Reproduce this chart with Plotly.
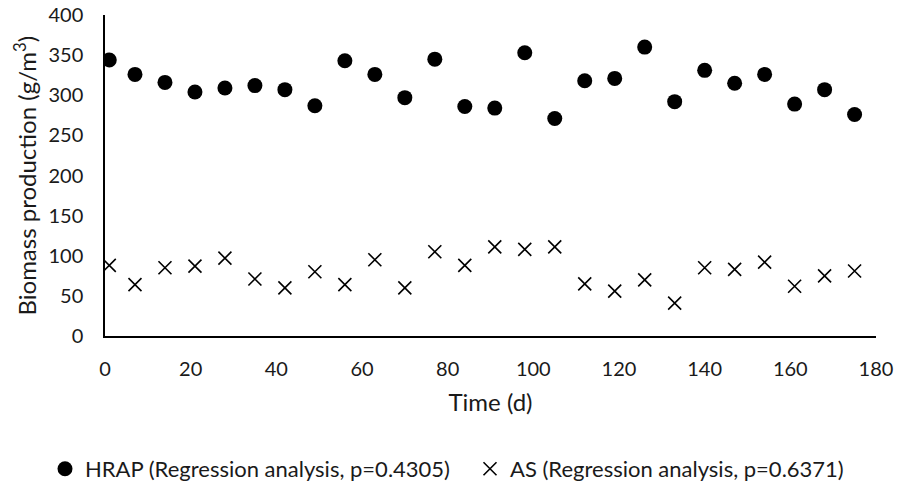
import plotly.graph_objects as go

days = [1, 7, 14, 21, 28, 35, 42, 49, 56, 63, 70, 77, 84, 91, 98, 105, 112, 119, 126, 133, 140, 147, 154, 161, 168, 175]
hrap = [344, 326, 316, 304, 309, 312, 307, 287, 343, 326, 297, 345, 286, 284,
        353, 271, 318, 321, 360, 292, 331, 315, 326, 289, 307, 276]
as_vals = [88, 64, 85, 87, 97, 71, 60, 80, 64, 95, 60, 105, 88, 111,
           108, 111, 65, 56, 70, 41, 85, 83, 92, 62, 75, 81]

FONT = "Lato"
TXT = "#1a1a1a"

W, H = 899, 492
ML, MR, MT, MB = 105, 23, 15, 156
PW, PH = W - ML - MR, H - MT - MB

fig = go.Figure()
fig.add_trace(go.Scatter(
    x=days, y=hrap, mode="markers",
    name="HRAP (Regression analysis, p=0.4305)",
    marker=dict(symbol="circle", size=15, color="black"),
    legend="legend",
))
fig.add_trace(go.Scatter(
    x=days, y=as_vals, mode="markers",
    name="AS (Regression analysis, p=0.6371)",
    marker=dict(symbol="x-thin-open", size=13, color="black",
                line=dict(color="black", width=1.6)),
    legend="legend2",
))

leg_y = ((H - MB) - 469) / PH
leg_common = dict(y=leg_y, yanchor="middle", xanchor="left",
                  orientation="h",
                  font=dict(family=FONT, size=22, color=TXT),
                  itemsizing="trace", itemwidth=30,
                  bgcolor="rgba(0,0,0,0)")

fig.update_layout(
    width=W, height=H,
    margin=dict(l=ML, r=MR, t=MT, b=MB, autoexpand=False),
    paper_bgcolor="white", plot_bgcolor="white",
    font=dict(family=FONT, size=20, color=TXT),
    showlegend=True,
    legend=dict(x=(45 - ML) / PW, **leg_common),
    legend2=dict(x=(470 - ML) / PW, **leg_common),
)
fig.update_xaxes(
    range=[0, 180], tickmode="linear", tick0=0, dtick=20,
    showgrid=False, zeroline=False,
    showline=True, linecolor="black", linewidth=1.5,
    ticks="", ticklabelstandoff=14,
    tickfont=dict(size=20, color=TXT),
    title=dict(text="Time (d)", standoff=15, font=dict(size=24, color=TXT)),
)
fig.update_yaxes(
    range=[0, 400], tickmode="linear", tick0=0, dtick=50,
    showgrid=False, zeroline=False,
    showline=True, linecolor="black", linewidth=1.5,
    ticks="", ticklabelstandoff=16,
    tickfont=dict(size=20, color=TXT),
)
fig.add_annotation(
    text="Biomass production (g/m<sup>3</sup>)",
    xref="paper", yref="paper",
    x=(24 - ML) / PW, y=0.5, xanchor="center", yanchor="middle",
    textangle=-90, showarrow=False,
    font=dict(family=FONT, size=24, color=TXT),
)

fig.write_html("out.html")
